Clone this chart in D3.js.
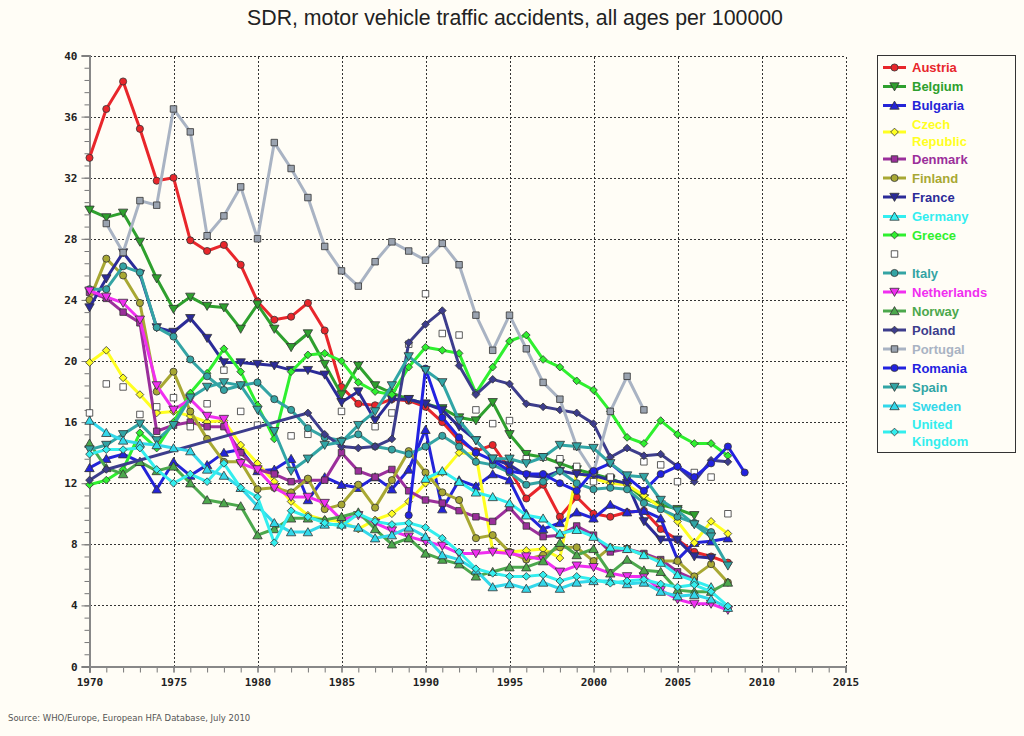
<!DOCTYPE html>
<html><head><meta charset="utf-8">
<script src="https://cdn.jsdelivr.net/npm/d3@7"></script>
<style>
html,body{margin:0;padding:0;background:#fffdf6;}
svg{display:block;}
</style></head><body>
<svg id="chart" width="1024" height="736"></svg>
<script>
// ---------- DATA (years 1970..2009) ----------
const years = d3.range(1970, 2010);
const _ = null;
const austria     = [33.3,36.5,38.3,35.2,31.8,32.0,27.9,27.2,27.6,26.3,23.9,22.7,22.9,23.8,22.0,18.3,17.2,17.1,17.5,17.4,17.0,16.0,14.8,14.1,14.5,12.9,11.0,11.9,9.8,11.1,10.0,9.8,10.1,10.2,9.0,8.3,7.5,7.2,6.8,_];
const belgium     = [29.9,29.4,29.7,27.8,25.4,23.4,24.2,23.6,23.5,22.1,23.7,22.1,20.9,21.8,19.8,17.8,19.7,18.4,17.9,17.5,17.2,16.9,16.3,16.1,17.3,15.2,13.9,13.7,13.3,12.9,12.6,12.3,11.9,11.0,10.6,10.3,9.9,_,_,_];
const bulgaria    = [13.0,13.6,13.9,13.4,11.6,13.4,12.5,13.2,14.0,14.2,12.8,12.9,13.6,10.9,12.4,11.9,11.7,12.4,11.6,12.9,15.5,10.3,12.2,11.8,12.6,12.2,10.0,9.0,9.4,10.1,9.7,10.6,10.1,10.2,9.7,7.0,8.1,8.2,8.4,_];
const czech       = [19.9,20.7,18.9,17.8,16.6,16.7,16.4,16.0,16.1,14.5,13.3,12.1,10.8,9.9,9.6,9.5,9.0,9.6,10.0,10.8,12.0,12.7,14.0,13.9,7.6,7.5,7.6,7.7,7.1,12.7,12.3,12.0,11.9,11.2,10.4,9.5,8.1,9.5,8.7,_];
const denmark     = [24.5,24.1,23.2,22.5,15.4,15.8,16.0,15.7,15.7,14.0,12.9,12.6,12.1,12.2,12.2,14.0,12.8,12.4,12.9,11.5,10.9,10.7,10.2,9.8,9.5,10.4,9.2,8.5,8.6,9.2,8.6,7.5,7.7,7.4,7.0,6.2,5.7,_,_,_];
const finland     = [24.0,26.7,25.6,23.8,18.0,19.3,16.7,14.9,13.4,13.4,11.6,11.7,11.4,12.3,10.3,10.6,11.9,10.4,12.2,14.1,12.7,11.4,10.9,8.4,8.6,7.5,7.0,7.3,7.8,7.8,6.9,7.8,7.7,7.3,6.9,6.9,5.9,6.7,5.5,_];
const france      = [23.5,25.4,27.1,25.7,22.2,21.9,22.8,21.5,19.9,19.9,19.8,19.7,19.4,19.4,19.1,17.3,18.0,16.1,17.5,17.5,17.2,16.8,15.7,14.8,13.6,13.2,12.5,12.4,12.8,12.6,12.5,12.2,12.0,9.5,8.3,8.3,7.2,7.1,_,_];
const germany     = [_,_,_,_,_,_,_,_,_,_,_,_,_,_,_,_,_,_,_,_,12.3,12.8,12.1,11.4,11.1,10.7,9.9,9.7,8.7,8.95,8.5,7.8,7.7,7.3,6.8,6.0,5.6,5.2,_,_];
const greece      = [11.9,12.2,12.9,15.3,14.3,16.0,17.9,19.2,20.8,19.3,17.1,14.9,19.3,20.4,20.5,20.0,18.6,18.0,17.8,19.6,20.9,20.7,20.5,17.9,19.6,21.3,21.7,20.1,19.6,18.7,18.1,16.7,15.0,14.6,16.1,15.2,14.6,14.6,13.8,_];
const unnamed     = [16.6,18.5,18.3,16.5,17.0,17.6,15.7,17.2,19.4,16.7,15.8,_,15.1,15.2,_,16.7,_,15.7,16.6,21.1,24.4,21.8,21.7,16.8,15.9,16.1,13.6,13.7,13.6,13.1,12.1,12.4,_,13.4,13.2,12.1,12.7,12.4,10.0,_];
const italy       = [24.7,24.7,26.2,25.8,22.2,21.6,20.1,19.0,18.1,18.4,18.6,17.5,16.8,15.6,15.0,14.8,15.2,14.4,14.2,13.9,14.4,15.1,14.4,13.4,13.2,12.7,11.9,12.1,12.8,12.0,11.6,11.7,11.6,10.7,10.3,9.8,9.4,8.8,_,_];
const netherlands = [24.6,24.2,23.8,22.7,18.4,16.8,17.5,16.4,16.2,13.3,12.9,11.7,11.1,11.1,10.7,9.6,9.9,9.4,8.9,8.5,8.2,7.9,7.4,7.4,7.5,7.4,7.2,7.0,6.2,6.6,6.5,6.1,5.9,5.9,5.0,4.4,4.1,4.1,3.7,_];
const norway      = [14.6,13.0,12.6,13.4,12.8,13.1,12.0,10.9,10.7,10.5,8.6,9.0,9.7,9.7,9.6,9.8,10.1,9.0,8.0,8.4,7.4,7.0,6.7,5.9,6.2,6.5,6.5,6.9,8.1,7.3,7.7,6.1,7.0,6.3,6.2,5.0,4.9,4.9,5.5,_];
const poland      = [12.2,12.9,_,_,_,_,_,_,_,_,_,_,_,16.6,15.2,14.4,14.3,14.4,14.9,21.2,22.4,23.3,19.7,17.8,18.8,18.5,17.2,17.0,16.8,16.6,15.9,13.7,14.3,13.8,13.9,13.1,12.1,13.5,13.4,_];
const portugal    = [_,29.0,27.1,30.5,30.2,36.5,35.0,28.2,29.5,31.4,28.0,34.3,32.6,30.7,27.5,25.9,24.9,26.5,27.8,27.2,26.6,27.7,26.3,23.0,20.7,23.0,20.8,18.6,17.5,14.4,12.7,16.7,19.0,16.8,_,_,_,_,_,_];
const romania     = [_,_,_,_,_,_,_,_,_,_,_,_,_,_,_,_,_,_,_,9.9,19.5,16.3,15.0,14.0,13.5,12.8,12.6,12.6,12.0,11.5,12.8,13.3,12.4,11.5,12.6,13.1,12.4,13.3,14.4,12.7];
const spain       = [14.2,14.5,15.2,15.9,14.8,15.8,17.6,18.3,18.6,18.4,16.8,15.4,12.8,13.6,14.5,14.7,15.8,16.7,18.4,20.3,19.4,18.6,16.1,14.8,13.6,13.6,13.3,13.7,14.5,14.4,14.3,13.3,12.5,12.4,10.9,10.2,9.3,8.5,6.6,_];
const sweden      = [16.1,15.3,14.8,14.6,14.5,14.3,14.1,12.9,12.5,11.7,10.5,9.4,8.8,8.8,9.3,9.3,9.1,8.4,8.6,9.1,8.5,7.3,7.0,6.3,5.2,5.4,5.1,5.5,5.1,5.5,5.6,5.6,5.4,5.5,4.9,4.6,4.7,4.4,3.85,_];
const uk          = [13.9,14.2,14.2,14.3,12.9,12.0,12.6,12.1,13.3,11.7,11.1,8.1,10.2,9.8,9.4,9.2,10.0,9.5,9.3,9.4,9.1,8.4,7.5,6.4,6.1,5.9,5.9,6.0,5.6,5.9,5.7,5.45,5.6,5.7,5.4,5.2,5.35,4.9,3.95,_];

const seriesNames  = ["Austria","Belgium","Bulgaria","Czech Republic","Denmark","Finland","France","Germany","Greece","","Italy","Netherlands","Norway","Poland","Portugal","Romania","Spain","Sweden","United Kingdom"];
const seriesValues = [austria,belgium,bulgaria,czech,denmark,finland,france,germany,greece,unnamed,italy,netherlands,norway,poland,portugal,romania,spain,sweden,uk];
const seriesColors = ["#e8262b","#2ea02e","#2424d8","#ffff22","#9b2f9b","#a8a833","#2b2b98","#33eef0","#2ff02f","#ffffff","#34a4a4","#f02ff0","#4ca84c","#3d3d8c","#a9b3c3","#2222e0","#31a5a5","#33d8ea","#33eeee"];
const seriesSymbols= ["circle","tdown","tup","diamond","square","circle","tdown","tup","diamond","square","circle","tdown","tup","diamond","square","circle","tdown","tup","diamond"];
const legendLines  = [["Austria"],["Belgium"],["Bulgaria"],["Czech","Republic"],["Denmark"],["Finland"],["France"],["Germany"],["Greece"],[""],["Italy"],["Netherlands"],["Norway"],["Poland"],["Portugal"],["Romania"],["Spain"],["Sweden"],["United","Kingdom"]];
const xTickLabels = d3.range(1970, 2016, 5);
const yTickLabels = d3.range(0, 41, 4);
const titleText = "SDR, motor vehicle traffic accidents, all ages per 100000";
const sourceText = "Source: WHO/Europe, European HFA Database, July 2010";

// ---------- LAYOUT ----------
const svg = d3.select("#chart");
const W = 1024, H = 736;
svg.append("rect").attr("width",W).attr("height",H).attr("fill","#fffdf6");
const x = d3.scaleLinear().domain([1970,2015]).range([89.5,845.5]);
const y = d3.scaleLinear().domain([0,40]).range([666.5,55.5]);

svg.append("text").attr("x",515).attr("y",25).attr("text-anchor","middle")
  .attr("font-family","Liberation Sans, Arial, sans-serif").attr("font-size",21.3).attr("fill","#222")
  .text(titleText);

// grid
const grid = svg.append("g").attr("stroke","#333").attr("stroke-width",1).attr("stroke-dasharray","2,2").attr("shape-rendering","crispEdges");
xTickLabels.filter(v=>v>1970).forEach(v=>{
  grid.append("line").attr("x1",Math.round(x(v))+0.5).attr("x2",Math.round(x(v))+0.5).attr("y1",y(0)).attr("y2",y(40));
});
yTickLabels.filter(v=>v>0).forEach(v=>{
  grid.append("line").attr("x1",x(1970)).attr("x2",x(2015)).attr("y1",Math.round(y(v))+0.5).attr("y2",Math.round(y(v))+0.5);
});

// axes
const tickFont = "DejaVu Sans Mono, monospace";
const xMinor = d3.axisBottom(x).tickValues(d3.range(1970,2016,1)).tickSize(6).tickFormat("");
const xMajor = d3.axisBottom(x).tickValues(xTickLabels).tickSize(6).tickPadding(6).tickFormat(d3.format("d"));
const yMinor = d3.axisLeft(y).tickValues(d3.range(0,40.01,0.8)).tickSize(5).tickFormat("");
const yMajor = d3.axisLeft(y).tickValues(yTickLabels).tickSize(8).tickPadding(4).tickFormat(d3.format("d"));
function styleAxis(g){
  g.select(".domain").attr("stroke","#888").attr("stroke-width",2);
  g.selectAll(".tick line").attr("stroke","#777");
  g.selectAll("text").attr("font-family",tickFont).attr("font-weight","bold").attr("font-size",11).attr("fill","#222");
}
svg.append("g").attr("transform",`translate(0,${y(0)})`).call(xMinor).call(styleAxis);
svg.append("g").attr("transform",`translate(0,${y(0)})`).call(xMajor).call(styleAxis);
svg.append("g").attr("transform",`translate(${x(1970)},0)`).call(yMinor).call(styleAxis);
svg.append("g").attr("transform",`translate(${x(1970)},0)`).call(yMajor).call(styleAxis);

// symbols
function symPath(type){
  switch(type){
    case "circle": return d3.symbol(d3.symbolCircle, 40)();
    case "tup": return d3.symbol(d3.symbolTriangle, 38)();
    case "tdown": return d3.symbol(d3.symbolTriangle, 38)();
    case "diamond": return d3.symbol(d3.symbolDiamond2, 38)();
    case "square": return d3.symbol(d3.symbolSquare, 42)();
  }
}
function markerFill(i){
  if (seriesNames[i]==="") return "#ffffff";
  if (seriesNames[i]==="Portugal") return "#9aa3b0";
  return seriesColors[i];
}
function drawMarker(g, i, cx, cy){
  const t = seriesSymbols[i];
  const rot = t==="tdown" ? " rotate(180)" : "";
  const dy = t==="tup" ? 1 : (t==="tdown" ? -1 : 0);
  g.append("path").attr("d",symPath(t))
    .attr("transform",`translate(${cx},${cy+dy})${rot}`)
    .attr("fill",markerFill(i)).attr("stroke","#333").attr("stroke-width",0.8);
}

// lines + markers
const plot = svg.append("g");
const lineGen = d3.line().x(d=>x(d.year)).y(d=>y(d.v));
seriesValues.forEach((vals,i)=>{
  const pts = years.map((yr,k)=>({year:yr, v:vals[k]})).filter(d=>d.v!==null && d.v!==undefined);
  const g = plot.append("g");
  if (seriesNames[i]!==""){
    g.append("path").datum(pts).attr("d",lineGen).attr("fill","none")
      .attr("stroke",seriesColors[i]).attr("stroke-width",3).attr("stroke-linejoin","round");
  }
  pts.forEach(d=>drawMarker(g,i,x(d.year),y(d.v)));
});

// legend
const lg = svg.append("g");
lg.append("rect").attr("x",877.5).attr("y",55.5).attr("width",138).attr("height",397)
  .attr("fill","#fffdf6").attr("stroke","#333").attr("stroke-width",1);
const legendY = [67.5,86.5,105.5,132,159,178,197,216.5,235,254,273,292,311,330,349,368,387,406,432];
seriesNames.forEach((n,i)=>{
  const cy = legendY[i];
  if (n!==""){
    lg.append("line").attr("x1",883).attr("x2",906).attr("y1",cy).attr("y2",cy)
      .attr("stroke",seriesColors[i]).attr("stroke-width",3);
  }
  drawMarker(lg,i,894.5,cy);
  const lines = legendLines[i];
  lines.forEach((t,k)=>{
    if (!t) return;
    const ty = lines.length===1 ? cy : cy + (k===0 ? -8 : 9);
    lg.append("text").attr("x",912).attr("y",ty).attr("dy","0.35em")
      .attr("font-family","Liberation Sans, Arial, sans-serif").attr("font-weight","bold").attr("font-size",13)
      .attr("fill",seriesColors[i]).text(t);
  });
});

svg.append("text").attr("x",8).attr("y",721).attr("font-family","DejaVu Sans, Verdana, sans-serif")
  .attr("font-size",8.5).attr("fill","#555").text(sourceText);
</script>
</body></html>
